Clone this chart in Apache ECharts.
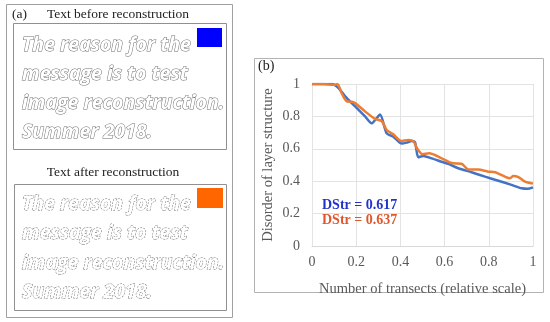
<!DOCTYPE html>
<html><head><meta charset="utf-8">
<script src="https://cdn.jsdelivr.net/npm/echarts@6/dist/echarts.min.js"></script>
<style>html,body{margin:0;padding:0;background:#fff}#c{width:550px;height:322px}</style>
</head><body><div id="c"></div>
<script>
// Data
const xTicks = [0, 0.2, 0.4, 0.6, 0.8, 1];
const yTicks = [0, 0.2, 0.4, 0.6, 0.8, 1];
const blueSeries = [[0,1],[0.05,1],[0.09,1],[0.12,0.975],[0.15,0.924],[0.195,0.862],[0.24,0.80],[0.27,0.757],[0.29,0.785],[0.308,0.812],[0.338,0.695],[0.368,0.675],[0.406,0.632],[0.428,0.638],[0.451,0.648],[0.466,0.64],[0.481,0.548],[0.504,0.556],[0.541,0.541],[0.587,0.52],[0.62,0.505],[0.662,0.48],[0.722,0.455],[0.783,0.428],[0.843,0.403],[0.903,0.377],[0.949,0.356],[0.975,0.353],[1,0.362]];
const orangeSeries = [[0,1],[0.05,1],[0.1,0.995],[0.115,1.0],[0.134,0.944],[0.157,0.893],[0.18,0.89],[0.195,0.882],[0.24,0.831],[0.285,0.785],[0.316,0.77],[0.338,0.716],[0.368,0.689],[0.406,0.648],[0.436,0.654],[0.46,0.644],[0.475,0.603],[0.5,0.566],[0.53,0.572],[0.587,0.541],[0.632,0.512],[0.677,0.508],[0.707,0.473],[0.752,0.472],[0.798,0.459],[0.828,0.455],[0.873,0.428],[0.896,0.418],[0.911,0.432],[0.934,0.425],[0.964,0.397],[1,0.385]];
const dstrLabels = ['DStr = 0.617', 'DStr = 0.637'];
const textLines = ['The reason for the', 'message is to test', 'image reconstruction.', 'Summer 2018.'];

const serif = "'Liberation Serif', 'Times New Roman', serif";
const hollowFont = "'Open Sans', 'DejaVu Sans', sans-serif";

function hollowLines(y0, dy, stroke, dash) {
  return textLines.map((t, i) => ({
    type: 'text', x: 22, y: y0 + i * dy,
    style: { text: t, fontFamily: hollowFont, fontSize: 19.5, fontStyle: 'italic', fontWeight: 'bold',
      fill: '#fff', stroke: stroke, lineWidth: 1, lineDash: dash,
      textAlign: 'left', textVerticalAlign: 'middle' }
  }));
}

const chart = echarts.init(document.getElementById('c'), null, {renderer: 'canvas'});
chart.setOption({
  animation: false,
  backgroundColor: '#fff',
  grid: { left: 312, top: 84, width: 221, height: 162 },
  xAxis: {
    type: 'value', min: 0, max: 1, interval: 0.2,
    name: 'Number of transects (relative scale)', nameLocation: 'middle', nameGap: 36,
    nameTextStyle: { fontFamily: serif, fontSize: 14.5, color: '#595959' },
    axisLine: { show: true, lineStyle: { color: '#d9d9d9' } },
    axisTick: { show: false },
    axisLabel: { fontFamily: serif, fontSize: 14, color: '#595959', margin: 9 },
    splitLine: { show: true, lineStyle: { color: '#e3e3e3' } }
  },
  yAxis: {
    type: 'value', min: 0, max: 1, interval: 0.2,
    name: 'Disorder of layer structure', nameLocation: 'middle', nameGap: 36, nameRotate: 90,
    nameTextStyle: { fontFamily: serif, fontSize: 14.5, color: '#595959' },
    axisLine: { show: false },
    axisTick: { show: false },
    axisLabel: { fontFamily: serif, fontSize: 14, color: '#595959', margin: 12 },
    splitLine: { show: true, lineStyle: { color: '#e3e3e3' } }
  },
  series: [
    { type: 'line', data: blueSeries, smooth: 0.25, showSymbol: false, lineStyle: { color: '#4472C4', width: 2.5 }, itemStyle: {color:'#4472C4'}, z: 3 },
    { type: 'line', data: orangeSeries, smooth: 0.25, showSymbol: false, lineStyle: { color: '#ED7D31', width: 2.5 }, itemStyle: {color:'#ED7D31'}, z: 4 }
  ],
  graphic: [
    { type: 'rect', shape: { x: 254.5, y: 58.5, width: 289, height: 234 }, style: { fill: 'none', stroke: '#b3b3b3', lineWidth: 1 }, z: -1 },
    { type: 'text', x: 258, y: 66, style: { text: '(b)', fontFamily: serif, fontSize: 14, fill: '#222', textAlign: 'left', textVerticalAlign: 'middle' } },
    { type: 'text', x: 322, y: 205, style: { text: dstrLabels[0], fontFamily: serif, fontSize: 14, fontWeight: 'bold', fill: '#2233CC', textAlign: 'left', textVerticalAlign: 'middle' }, z: 10 },
    { type: 'text', x: 322, y: 220, style: { text: dstrLabels[1], fontFamily: serif, fontSize: 14, fontWeight: 'bold', fill: '#E0562C', textAlign: 'left', textVerticalAlign: 'middle' }, z: 10 },
    { type: 'rect', shape: { x: 6.5, y: 4.5, width: 226, height: 313 }, style: { fill: 'none', stroke: '#a0a0a0', lineWidth: 1 } },
    { type: 'text', x: 12, y: 14, style: { text: '(a)', fontFamily: serif, fontSize: 13.5, fill: '#222', textAlign: 'left', textVerticalAlign: 'middle' } },
    { type: 'text', x: 118, y: 14, style: { text: 'Text before reconstruction', fontFamily: serif, fontSize: 13.5, fill: '#222', textAlign: 'center', textVerticalAlign: 'middle' } },
    { type: 'rect', shape: { x: 13.5, y: 23.5, width: 213, height: 126 }, style: { fill: 'none', stroke: '#909090', lineWidth: 1 } },
    { type: 'rect', shape: { x: 197, y: 28, width: 25, height: 19 }, style: { fill: '#0000FF' } },
    ...hollowLines(45, 29, '#6e6e6e', null),
    { type: 'text', x: 113, y: 172, style: { text: 'Text after reconstruction', fontFamily: serif, fontSize: 13.5, fill: '#222', textAlign: 'center', textVerticalAlign: 'middle' } },
    { type: 'rect', shape: { x: 14.5, y: 184.5, width: 212, height: 126 }, style: { fill: 'none', stroke: '#909090', lineWidth: 1 } },
    { type: 'rect', shape: { x: 197, y: 188, width: 26, height: 20 }, style: { fill: '#FF6600' } },
    ...hollowLines(204, 29.5, '#6e6e6e', [2, 1])
  ]
});
</script></body></html>
